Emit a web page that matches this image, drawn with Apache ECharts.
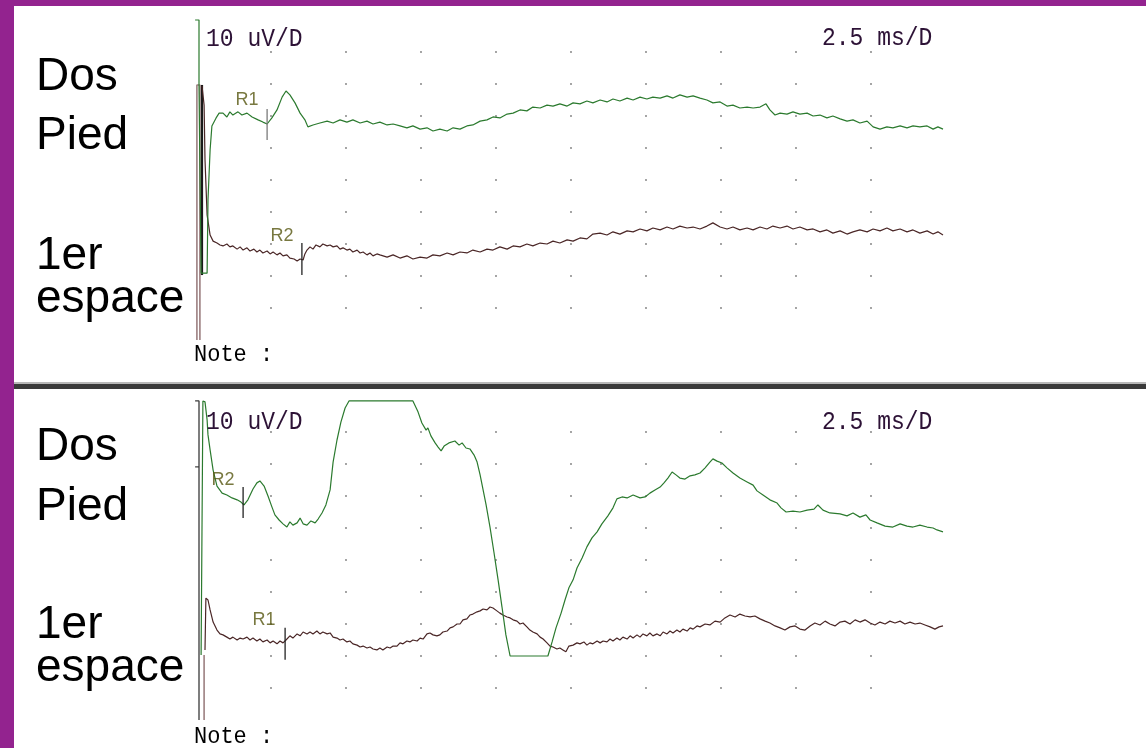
<!DOCTYPE html>
<html><head><meta charset="utf-8">
<script src="https://cdn.jsdelivr.net/npm/echarts@6/dist/echarts.min.js"></script>
<style>html,body{margin:0;padding:0;background:#fff}#c{width:1146px;height:748px}</style>
</head><body><div id="c"></div>
<script>
// time axis: ms (2.5 ms/D), amplitude axis: uV (10 uV/D)
const xTicks = [2.5,5,7.5,10,12.5,15,17.5,20,22.5];
const yTicks = [10,20,30,40,50,60,70,80,90];
const scaleTexts = ["10 uV/D", "2.5 ms/D"];
const rowLabels = ["Dos", "Pied", "1er", "espace"];

// ---------- top panel ----------
const topGreen = [[-0.03,100],[0.10,100],[0.10,79.7],[0.17,20.9],[0.37,20.9],[0.40,43.8],[0.47,59.4],[0.53,66.9],[0.67,69.4],[0.77,70.9],[0.90,70.9],[1.03,69.7],[1.13,71.3],[1.23,70.3],[1.40,71.3],[1.53,70.3],[1.70,70.9],[1.87,69.7],[2.07,68.8],[2.23,68.1],[2.37,67.5],[2.53,69.4],[2.70,71.9],[2.87,75.9],[3.00,77.8],[3.13,76.6],[3.30,74.1],[3.47,70.9],[3.63,68.8],[3.73,66.6],[3.90,67.2],[4.13,67.8],[4.37,68.4],[4.57,67.8],[4.80,68.8],[5.03,68.1],[5.23,68.8],[5.47,67.8],[5.70,68.4],[5.90,67.5],[6.13,68.1],[6.37,67.2],[6.57,67.5],[6.80,66.9],[7.03,66.3],[7.23,66.9],[7.47,65.9],[7.70,66.3],[7.90,65.3],[8.13,65.9],[8.37,65.3],[8.57,66.3],[8.80,65.9],[9.03,66.9],[9.23,67.2],[9.47,68.4],[9.70,68.8],[9.90,69.7],[10.13,69.4],[10.37,70.6],[10.57,70.9],[10.80,71.9],[11.03,71.6],[11.23,72.8],[11.47,72.5],[11.70,73.4],[11.90,73.1],[12.13,73.8],[12.37,73.1],[12.57,74.1],[12.80,73.8],[13.03,74.7],[13.23,74.1],[13.47,75.0],[13.70,74.4],[13.90,75.3],[14.13,74.7],[14.37,75.6],[14.57,75.0],[14.80,75.9],[15.03,75.3],[15.23,75.9],[15.47,75.6],[15.70,76.3],[15.90,75.6],[16.13,76.6],[16.37,75.9],[16.57,76.3],[16.80,75.6],[17.03,75.0],[17.23,74.1],[17.47,74.4],[17.70,73.1],[17.90,73.4],[18.13,72.5],[18.37,72.8],[18.57,72.5],[18.80,72.8],[19.00,73.8],[19.13,71.9],[19.30,70.3],[19.47,70.9],[19.70,70.6],[19.90,71.3],[20.13,70.6],[20.37,70.9],[20.57,70.0],[20.80,70.3],[21.03,69.4],[21.23,70.0],[21.47,69.1],[21.70,68.4],[21.90,68.8],[22.13,67.8],[22.37,68.4],[22.57,66.6],[22.80,65.9],[23.03,66.6],[23.23,66.3],[23.47,66.9],[23.70,66.3],[23.90,66.9],[24.13,66.6],[24.37,66.9],[24.57,65.9],[24.73,66.6],[24.90,65.9]];
const topBrown = [[0.20,79.4],[0.27,73.4],[0.30,56.3],[0.37,39.1],[0.47,32.8],[0.57,30.9],[0.70,30.3],[0.80,29.7],[0.90,29.4],[1.03,30.0],[1.13,29.1],[1.23,29.4],[1.37,28.4],[1.47,29.1],[1.57,28.1],[1.70,28.8],[1.80,27.8],[1.93,28.4],[2.03,27.5],[2.13,28.1],[2.23,27.2],[2.37,27.8],[2.47,26.9],[2.57,27.5],[2.70,26.6],[2.80,27.2],[2.90,26.3],[3.03,26.6],[3.13,25.6],[3.27,25.3],[3.37,24.7],[3.47,25.3],[3.57,25.0],[3.63,26.9],[3.70,28.1],[3.80,29.1],[3.90,28.4],[4.00,29.7],[4.13,29.1],[4.23,30.0],[4.37,29.4],[4.47,29.7],[4.57,29.1],[4.70,29.4],[4.80,28.4],[4.90,28.8],[5.03,28.1],[5.13,28.4],[5.23,27.5],[5.37,28.1],[5.47,27.2],[5.57,27.5],[5.70,26.6],[5.80,27.2],[5.90,26.3],[6.03,26.9],[6.13,26.6],[6.37,25.9],[6.57,26.6],[6.80,25.6],[7.03,26.3],[7.23,25.3],[7.47,25.9],[7.70,25.6],[7.90,26.6],[8.13,26.3],[8.37,27.2],[8.57,26.6],[8.80,27.5],[9.03,27.2],[9.23,28.1],[9.47,27.5],[9.70,28.4],[9.90,28.1],[10.13,29.1],[10.37,28.4],[10.57,29.4],[10.80,29.1],[11.03,30.0],[11.23,29.4],[11.47,30.3],[11.70,30.0],[11.90,30.9],[12.13,30.3],[12.37,31.3],[12.57,30.9],[12.80,31.9],[13.03,31.6],[13.23,33.1],[13.47,33.4],[13.70,32.8],[13.90,33.8],[14.13,33.1],[14.37,34.1],[14.57,33.8],[14.80,34.7],[15.03,34.1],[15.23,35.0],[15.47,34.4],[15.70,35.3],[15.90,34.7],[16.13,35.6],[16.37,35.0],[16.57,35.3],[16.80,34.7],[17.03,35.6],[17.23,36.6],[17.47,35.3],[17.70,34.7],[17.90,35.3],[18.13,34.4],[18.37,35.0],[18.57,34.4],[18.80,35.3],[19.03,34.7],[19.23,35.6],[19.47,35.0],[19.70,35.6],[19.90,34.7],[20.13,35.3],[20.37,34.4],[20.57,34.7],[20.80,33.8],[21.03,34.4],[21.23,33.4],[21.47,34.1],[21.70,33.1],[21.90,33.8],[22.13,34.4],[22.37,33.8],[22.57,34.7],[22.80,34.1],[23.03,35.0],[23.23,34.1],[23.47,34.7],[23.70,33.8],[23.90,34.4],[24.13,33.4],[24.37,34.1],[24.57,33.1],[24.73,33.8],[24.90,32.8]];
const topArtifactPink = [[0.03,0],[0.03,79.7],[0.13,79.7],[0.13,0]];
const topArtifactDark = [[0.20,79.7],[0.20,20.3]];
const topTicks = [{name:"R1", t:2.37, v:[72.2,62.5], lt:1.70, lv:75.0, color:"#7a7a7a"},
                  {name:"R2", t:3.53, v:[30.3,20.3], lt:2.87, lv:32.5, color:"#222"}];

// ---------- bottom panel ----------
const botGreen = [[0.17,20.3],[0.23,20.3],[0.23,99.7],[0.30,99.4],[0.37,93.8],[0.40,89.1],[0.47,84.4],[0.57,78.1],[0.70,73.1],[0.87,70.9],[1.03,70.3],[1.20,69.4],[1.37,68.8],[1.50,68.1],[1.60,67.2],[1.73,68.8],[1.90,72.2],[2.03,74.1],[2.13,74.7],[2.27,73.1],[2.40,70.0],[2.53,66.6],[2.63,64.1],[2.77,62.5],[2.90,61.3],[3.03,60.3],[3.13,61.9],[3.23,60.9],[3.37,61.6],[3.47,63.1],[3.57,61.3],[3.70,60.9],[3.83,62.2],[3.97,61.6],[4.07,62.8],[4.20,64.7],[4.33,67.2],[4.47,71.9],[4.57,80.6],[4.70,87.5],[4.83,93.1],[4.97,97.5],[5.10,99.7],[7.23,99.7],[7.40,96.3],[7.53,92.8],[7.67,90.6],[7.73,91.3],[7.83,88.8],[7.97,86.6],[8.07,85.3],[8.17,84.1],[8.27,85.6],[8.43,86.6],[8.63,87.2],[8.77,85.9],[8.87,86.6],[9.00,85.0],[9.13,84.7],[9.27,82.8],[9.37,80.6],[9.47,76.6],[9.57,71.9],[9.67,67.2],[9.80,60.3],[9.93,52.5],[10.07,43.8],[10.20,35.3],[10.33,26.6],[10.47,20.0],[11.73,20.0],[11.87,24.4],[12.00,28.8],[12.17,33.4],[12.30,37.5],[12.43,41.3],[12.57,43.8],[12.70,47.5],[12.87,50.6],[13.03,54.1],[13.20,56.9],[13.37,58.8],[13.53,61.3],[13.73,63.8],[13.90,66.3],[14.03,69.1],[14.20,69.7],[14.37,69.4],[14.57,70.3],[14.80,69.4],[14.97,69.7],[15.13,70.9],[15.30,71.9],[15.47,72.8],[15.60,74.1],[15.73,75.6],[15.87,77.5],[16.00,76.6],[16.13,75.6],[16.30,75.3],[16.47,76.3],[16.63,76.6],[16.80,77.2],[16.97,78.8],[17.13,80.6],[17.23,81.6],[17.37,80.9],[17.53,80.3],[17.70,78.8],[17.90,77.2],[18.13,75.6],[18.37,74.4],[18.57,73.4],[18.70,71.6],[18.90,70.3],[19.13,68.8],[19.37,67.8],[19.50,66.3],[19.67,65.0],[19.90,65.3],[20.13,65.0],[20.37,65.6],[20.60,65.9],[20.73,67.2],[20.90,65.6],[21.13,64.7],[21.47,64.4],[21.70,63.8],[21.90,64.7],[22.13,63.4],[22.33,64.1],[22.47,62.5],[22.70,61.6],[22.97,60.6],[23.23,60.3],[23.47,61.3],[23.70,60.6],[23.90,60.3],[24.13,60.9],[24.37,60.3],[24.57,60.0],[24.70,59.4],[24.90,58.8]];
const botBrown = [[0.30,21.9],[0.33,38.1],[0.40,37.5],[0.47,34.4],[0.57,30.6],[0.70,28.1],[0.80,26.9],[0.90,26.6],[1.03,25.9],[1.13,25.3],[1.23,25.9],[1.37,25.0],[1.47,25.6],[1.57,25.3],[1.70,25.9],[1.80,25.0],[1.90,25.6],[2.03,24.7],[2.13,25.3],[2.23,24.4],[2.37,25.0],[2.47,24.1],[2.57,24.7],[2.70,23.8],[2.80,24.7],[2.90,24.1],[3.00,25.0],[3.13,26.3],[3.23,25.6],[3.37,26.9],[3.47,26.3],[3.57,27.5],[3.70,26.9],[3.80,27.5],[3.90,26.9],[4.03,27.8],[4.13,26.9],[4.23,27.5],[4.37,26.9],[4.47,27.2],[4.57,25.9],[4.70,25.6],[4.80,25.0],[4.90,25.3],[5.03,24.4],[5.13,24.7],[5.23,23.8],[5.37,23.4],[5.47,22.8],[5.57,23.1],[5.70,22.5],[5.80,22.8],[5.90,22.2],[6.03,21.9],[6.13,22.5],[6.23,21.9],[6.37,22.8],[6.47,22.5],[6.57,23.1],[6.70,23.1],[6.80,24.1],[6.90,23.8],[7.03,24.7],[7.13,24.4],[7.23,25.0],[7.37,24.7],[7.47,25.6],[7.57,25.3],[7.70,26.9],[7.80,27.2],[7.90,26.6],[8.03,26.3],[8.13,26.6],[8.23,27.5],[8.37,27.8],[8.47,28.8],[8.57,29.1],[8.70,30.0],[8.80,30.0],[8.90,31.3],[9.03,31.6],[9.13,32.8],[9.23,33.1],[9.37,33.8],[9.47,34.1],[9.57,34.7],[9.70,34.4],[9.80,35.3],[9.90,35.0],[10.03,34.1],[10.13,33.4],[10.23,32.8],[10.37,32.2],[10.47,31.9],[10.57,31.3],[10.70,30.9],[10.80,30.0],[10.90,30.3],[11.03,29.1],[11.13,28.1],[11.23,27.5],[11.37,26.9],[11.47,25.9],[11.57,25.3],[11.70,24.1],[11.80,23.1],[11.90,22.8],[12.03,22.2],[12.13,22.5],[12.23,21.9],[12.33,21.3],[12.43,23.1],[12.57,23.4],[12.70,24.1],[12.80,23.8],[12.93,24.4],[13.03,23.4],[13.13,24.1],[13.23,23.8],[13.37,24.7],[13.47,24.1],[13.57,24.7],[13.70,24.4],[13.80,25.3],[13.90,24.7],[14.03,25.6],[14.13,25.0],[14.23,25.9],[14.37,25.3],[14.47,26.3],[14.57,25.6],[14.70,26.6],[14.80,25.9],[14.90,26.9],[15.03,26.3],[15.13,27.2],[15.23,26.3],[15.37,26.9],[15.47,26.3],[15.57,27.5],[15.70,26.9],[15.80,27.8],[15.90,27.2],[16.03,28.1],[16.13,27.5],[16.23,28.4],[16.37,27.8],[16.47,28.8],[16.57,28.4],[16.70,29.4],[16.80,29.1],[16.97,30.0],[17.13,29.7],[17.30,30.9],[17.47,30.6],[17.63,31.9],[17.80,32.8],[17.97,32.2],[18.13,33.1],[18.30,32.5],[18.47,32.2],[18.63,32.5],[18.80,31.6],[18.97,30.9],[19.13,30.3],[19.30,29.4],[19.47,28.8],[19.63,28.1],[19.80,29.1],[19.97,29.4],[20.13,28.4],[20.30,28.1],[20.47,29.4],[20.63,30.3],[20.80,29.7],[20.97,30.9],[21.13,30.0],[21.30,29.4],[21.47,30.6],[21.63,30.9],[21.80,30.0],[21.97,31.3],[22.13,30.6],[22.30,31.3],[22.47,30.3],[22.63,29.7],[22.80,30.6],[22.97,30.0],[23.13,30.9],[23.30,30.3],[23.47,30.9],[23.63,30.0],[23.80,30.6],[23.97,30.0],[24.13,30.3],[24.30,29.7],[24.47,29.1],[24.63,28.4],[24.77,29.1],[24.90,29.4]];
const botCalib = [[-0.03,99.7],[0.10,99.7],[0.10,0]];
const botCalibTick = [[-0.03,79.1],[0.10,79.1]];
const botArtifactPink = [[0.27,20.3],[0.27,0]];
const botTicks = [{name:"R2", t:1.57, v:[72.8,63.1], lt:0.90, lv:75.0, color:"#222"},
                  {name:"R1", t:2.97, v:[28.8,18.8], lt:2.27, lv:31.3, color:"#222"}];

const GREEN = "#2b7a2e", BROWN = "#4a2626", LABEL = "#565610";

function lineS(g, data, color, w, z) {
  return {type:"line", xAxisIndex:g, yAxisIndex:g, data:data, showSymbol:false, symbol:"none",
    clip:false, silent:true, z:z||3, lineStyle:{color:color, width:w||1.2}, animation:false};
}
function panelSeries(g, green, brown, ticks, extras) {
  const dots = [];
  xTicks.forEach(x => yTicks.forEach(y => dots.push([x, y])));
  const s = [{type:"scatter", xAxisIndex:g, yAxisIndex:g, data:dots, symbolSize:1.8, silent:true,
     itemStyle:{color:"#5a5a5a"}, animation:false, z:1}];
  extras.forEach(e => s.push(lineS(g, e.data, e.color, e.w, 2)));
  s.push(lineS(g, brown, BROWN, 1.2, 3));
  s.push(lineS(g, green, GREEN, 1.2, 4));
  ticks.forEach(tk => {
    s.push(lineS(g, [[tk.t, tk.v[0]], [tk.t, tk.v[1]]], tk.color, 1.3, 5));
    s.push({type:"scatter", xAxisIndex:g, yAxisIndex:g, data:[[tk.lt, tk.lv]], symbolSize:1,
      itemStyle:{color:"rgba(0,0,0,0)"}, silent:true, animation:false, z:6,
      label:{show:true, position:"inside", formatter:tk.name, color:LABEL,
             fontFamily:"Liberation Sans", fontSize:18}});
  });
  return s;
}

const series = [].concat(
  panelSeries(0, topGreen, topBrown, topTicks, [
    {data:topArtifactPink, color:"#9c7f80", w:1.6},
    {data:topArtifactDark, color:"#1a1a1a", w:2.2}]),
  panelSeries(1, botGreen, botBrown, botTicks, [
    {data:botCalib, color:"#3a3a3a", w:1.3},
    {data:botCalibTick, color:"#3a3a3a", w:1.2},
    {data:botArtifactPink, color:"#9c7f80", w:1.6}])
);

const axisBase = {show:false, axisLine:{show:false}, splitLine:{show:false}, axisTick:{show:false}, axisLabel:{show:false}};
const MONO = "Liberation Mono";
function txt(x, y, text, size, fill, family, sy) {
  return {type:"text", x:x, y:y, scaleY:sy||1, silent:true, z:10,
    style:{text:text, font:size+"px '"+family+"'", fill:fill, align:"left", verticalAlign:"middle"}};
}
const SANS = "Liberation Sans";
const graphic = [
  {type:"rect", shape:{x:0,y:0,width:1146,height:6}, style:{fill:"#93238f"}, z:0},
  {type:"rect", shape:{x:0,y:0,width:14,height:748}, style:{fill:"#93238f"}, z:0},
  {type:"rect", shape:{x:14,y:382,width:1132,height:2}, style:{fill:"#b8b8b8"}, z:0},
  {type:"rect", shape:{x:14,y:384,width:1132,height:5}, style:{fill:"#3a3a3a"}, z:0},
  txt(36, 77, rowLabels[0], 46, "#000", SANS),
  txt(36, 136, rowLabels[1], 46, "#000", SANS),
  txt(36, 256, rowLabels[2], 46, "#000", SANS),
  txt(36, 299, rowLabels[3], 46, "#000", SANS),
  txt(36, 447, rowLabels[0], 46, "#000", SANS),
  txt(36, 507, rowLabels[1], 46, "#000", SANS),
  txt(36, 625, rowLabels[2], 46, "#000", SANS),
  txt(36, 668, rowLabels[3], 46, "#000", SANS),
  txt(206, 39, scaleTexts[0], 23, "#2d1236", MONO, 1.15),
  txt(822, 38, scaleTexts[1], 23, "#2d1236", MONO, 1.15),
  txt(206, 422, scaleTexts[0], 23, "#2d1236", MONO, 1.15),
  txt(822, 422, scaleTexts[1], 23, "#2d1236", MONO, 1.15),
  txt(194, 355, "Note :", 22, "#000", MONO, 1.1),
  txt(194, 737, "Note :", 22, "#000", MONO, 1.1)
];

const chart = echarts.init(document.getElementById("c"), null, {renderer:"canvas"});
chart.setOption({
  backgroundColor:"#ffffff",
  animation:false,
  grid:[{left:196, top:20, width:750, height:320}, {left:196, top:400, width:750, height:320}],
  xAxis:[Object.assign({type:"value", gridIndex:0, min:0, max:25, interval:2.5}, axisBase),
         Object.assign({type:"value", gridIndex:1, min:0, max:25, interval:2.5}, axisBase)],
  yAxis:[Object.assign({type:"value", gridIndex:0, min:0, max:100, interval:10}, axisBase),
         Object.assign({type:"value", gridIndex:1, min:0, max:100, interval:10}, axisBase)],
  graphic:graphic,
  series:series
});
</script></body></html>
